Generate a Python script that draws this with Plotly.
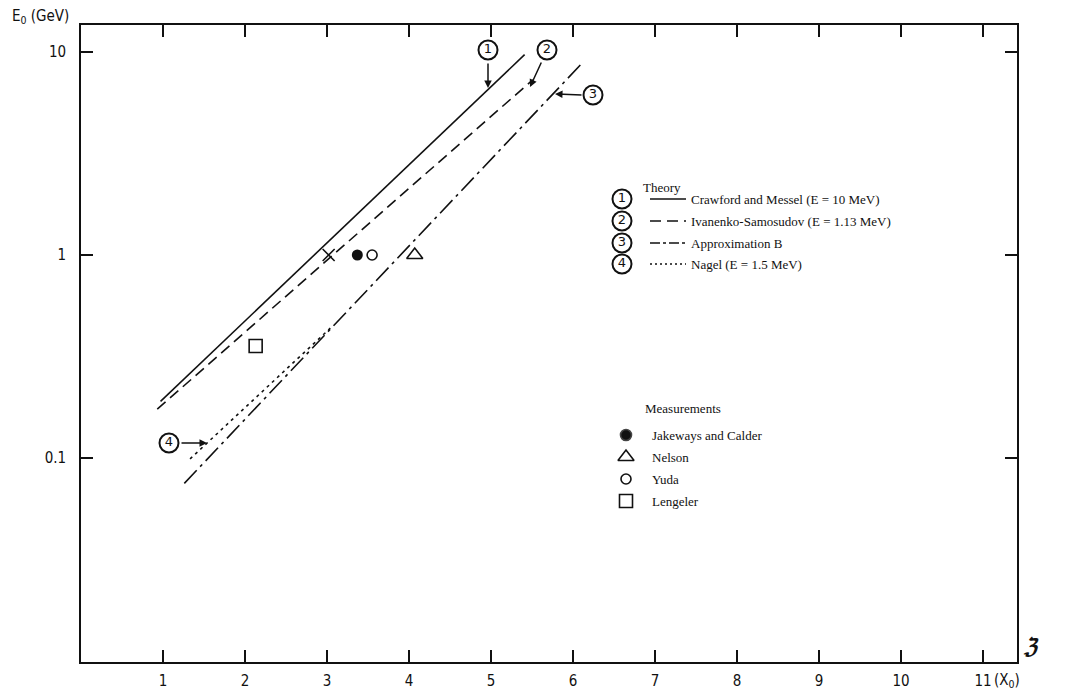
import plotly.graph_objects as go

# ---------------- data ----------------
# Theory curves: depth (radiation lengths X0) vs primary energy E0 (GeV)
crawford_x = [0.97, 5.41]
crawford_y = [0.19, 9.7]
ivanenko_x = [0.93, 5.51]
ivanenko_y = [0.174, 7.3]
approxB_x = [1.26, 6.11]
approxB_y = [0.075, 8.8]
nagel_x = [1.33, 3.04]
nagel_y = [0.099, 0.436]

# Measurements
jakeways_x = [3.37]
jakeways_y = [1.0]
nelson_x = [4.07]
nelson_y = [1.0]
yuda_x = [3.55]
yuda_y = [1.0]
lengeler_x = [2.13]
lengeler_y = [0.356]
cross_x = [3.02]
cross_y = [1.0]

x_ticks = [1, 2, 3, 4, 5, 6, 7, 8, 9, 10, 11]
x_ticktext = ["1", "2", "3", "4", "5", "6", "7", "8", "9", "10", "11"]
y_ticks = [0.1, 1, 10]
y_ticktext = ["0.1", "1", "10"]

theory_labels = ["Crawford and Messel (E = 10 MeV)",
                 "Ivanenko-Samosudov (E = 1.13 MeV)",
                 "Approximation B",
                 "Nagel (E = 1.5 MeV)"]
meas_labels = ["Jakeways and Calder", "Nelson", "Yuda", "Lengeler"]

# ---------------- layout geometry (screen pixels) ----------------
PAGE_M = 8                      # browser body margin
SCR_W, SCR_H = 1076, 693
W, H = SCR_W - PAGE_M, SCR_H - PAGE_M
L, R, T, B = 81, 1017, 25, 662  # plot area in screen pixels


def px(xp):
    return (xp - L) / (R - L)


def py(yp):
    return (B - yp) / (B - T)


SERIF = "Liberation Serif, Times New Roman, serif"
SANS = "Liberation Sans Narrow, DejaVu Sans Condensed, Arial Narrow, sans-serif"
INK = "#111111"

dash2 = "11px,6px"
dash3 = "18px,5px,3px,5px"
dash4 = "3px,4px"

fig = go.Figure()

# theory lines
fig.add_trace(go.Scatter(x=crawford_x, y=crawford_y, mode="lines",
                         line=dict(color=INK, width=1.6), showlegend=False))
fig.add_trace(go.Scatter(x=ivanenko_x, y=ivanenko_y, mode="lines",
                         line=dict(color=INK, width=1.6, dash=dash2), showlegend=False))
fig.add_trace(go.Scatter(x=approxB_x, y=approxB_y, mode="lines",
                         line=dict(color=INK, width=1.6, dash=dash3), showlegend=False))
fig.add_trace(go.Scatter(x=nagel_x, y=nagel_y, mode="lines",
                         line=dict(color=INK, width=1.6, dash=dash4), showlegend=False))

# measurements
fig.add_trace(go.Scatter(x=jakeways_x, y=jakeways_y, mode="markers",
                         marker=dict(symbol="circle", size=11, color=INK), showlegend=False))
fig.add_trace(go.Scatter(x=nelson_x, y=nelson_y, mode="markers",
                         marker=dict(symbol="triangle-up-open", size=14, color=INK,
                                     line=dict(width=1.6)), showlegend=False))
fig.add_trace(go.Scatter(x=yuda_x, y=yuda_y, mode="markers",
                         marker=dict(symbol="circle-open", size=10, color=INK,
                                     line=dict(width=1.6)), showlegend=False))
fig.add_trace(go.Scatter(x=lengeler_x, y=lengeler_y, mode="markers",
                         marker=dict(symbol="square-open", size=13, color=INK,
                                     line=dict(width=1.6)), showlegend=False))
fig.add_trace(go.Scatter(x=cross_x, y=cross_y, mode="markers",
                         marker=dict(symbol="x-thin-open", size=12, color=INK,
                                     line=dict(width=1.6, color=INK)), showlegend=False))

# ---------------- decorations on an overlay unit axis ----------------
circ_pos = [(488, 50), (547, 50), (593, 95), (169, 443)]
leg_circ = [(622, 199), (622, 221), (622, 243), (622, 264)]
all_c = circ_pos + leg_circ
digits = ["1", "2", "3", "4"] * 2
fig.add_trace(go.Scatter(
    x=[px(c[0]) for c in all_c], y=[py(c[1]) for c in all_c],
    xaxis="x2", yaxis="y2", mode="markers+text", text=digits,
    textposition="middle center",
    textfont=dict(family="DejaVu Sans, sans-serif", size=13, color=INK),
    marker=dict(symbol="circle-open", size=19, color=INK, line=dict(width=2)),
    showlegend=False, hoverinfo="skip"))

# legend markers for measurements
mx = 626
m_rows = [435, 457, 479, 501]
m_syms = ["circle", "triangle-up-open", "circle-open", "square-open"]
m_sizes = [11, 14, 10, 13]
for yy, s, sz in zip(m_rows, m_syms, m_sizes):
    fig.add_trace(go.Scatter(x=[px(mx)], y=[py(yy)], xaxis="x2", yaxis="y2",
                             mode="markers",
                             marker=dict(symbol=s, size=sz, color=INK, line=dict(width=1.6)),
                             showlegend=False, hoverinfo="skip"))

shapes = []
# legend line samples
for (cx, cy), d in zip(leg_circ, ["solid", dash2, "10px,3px,3px,3px", "2px,3px"]):
    shapes.append(dict(type="line", xref="paper", yref="paper",
                       x0=px(650), x1=px(686), y0=py(cy), y1=py(cy),
                       line=dict(color=INK, width=1.6, dash=d)))


def note(x, y, text, size=13, family=SERIF, xanchor="center"):
    return dict(xref="paper", yref="paper", x=px(x), y=py(y), text=text,
                xanchor=xanchor, yanchor="middle", showarrow=False,
                font=dict(family=family, size=size, color=INK))


annotations = []
annotations.append(note(662, 187, "Theory"))
for (cx, cy), t in zip(leg_circ, theory_labels):
    annotations.append(note(689, cy, t, xanchor="left"))
annotations.append(note(683, 409, "Measurements"))
for yy, t in zip(m_rows, meas_labels):
    annotations.append(note(650, yy, t, xanchor="left"))

# arrows from circled labels to the curves
arrows = [((488, 62), (488, 88)), ((542, 61), (530, 87)),
          ((583, 95), (555, 94)), ((180, 443), (207, 443))]
for (tx, ty), (hx, hy) in arrows:
    annotations.append(dict(xref="paper", yref="paper", x=px(hx), y=py(hy),
                            ax=tx - hx, ay=ty - hy, text="", showarrow=True,
                            arrowhead=2, arrowsize=1, arrowwidth=1.5, arrowcolor=INK))

# axis titles
annotations.append(note(40, 16, "E<sub>0</sub> (GeV)", size=15, family=SANS))
annotations.append(note(1007, 680, "(X<sub>0</sub>)", size=15, family=SANS))
annotations.append(note(1031, 646, "<b><i>ℨ</i></b>", size=22, family="DejaVu Serif, serif"))

axis_common = dict(showgrid=False, zeroline=False, showline=True, linecolor=INK,
                   linewidth=1.6, mirror="ticks", ticks="inside", ticklen=12,
                   tickwidth=1.5, tickcolor=INK, automargin=False,
                   tickfont=dict(family=SANS, size=15, color=INK))

fig.update_layout(
    width=W, height=H, autosize=False,
    margin=dict(l=L - PAGE_M, r=SCR_W - R, t=T - PAGE_M, b=SCR_H - B, pad=0),
    paper_bgcolor="white", plot_bgcolor="white",
    xaxis=dict(range=[0, (R - L) / 82.0], tickvals=x_ticks, ticktext=x_ticktext,
               ticklabelstandoff=4, **axis_common),
    yaxis=dict(type="log", range=[-2.005, 1.133], tickvals=y_ticks, ticktext=y_ticktext,
               ticklabelstandoff=10, **axis_common),
    xaxis2=dict(range=[0, 1], overlaying="x", visible=False, fixedrange=True,
                automargin=False),
    yaxis2=dict(range=[0, 1], overlaying="y", visible=False, fixedrange=True,
                automargin=False),
    shapes=shapes, annotations=annotations,
)

fig.write_html("out.html")
